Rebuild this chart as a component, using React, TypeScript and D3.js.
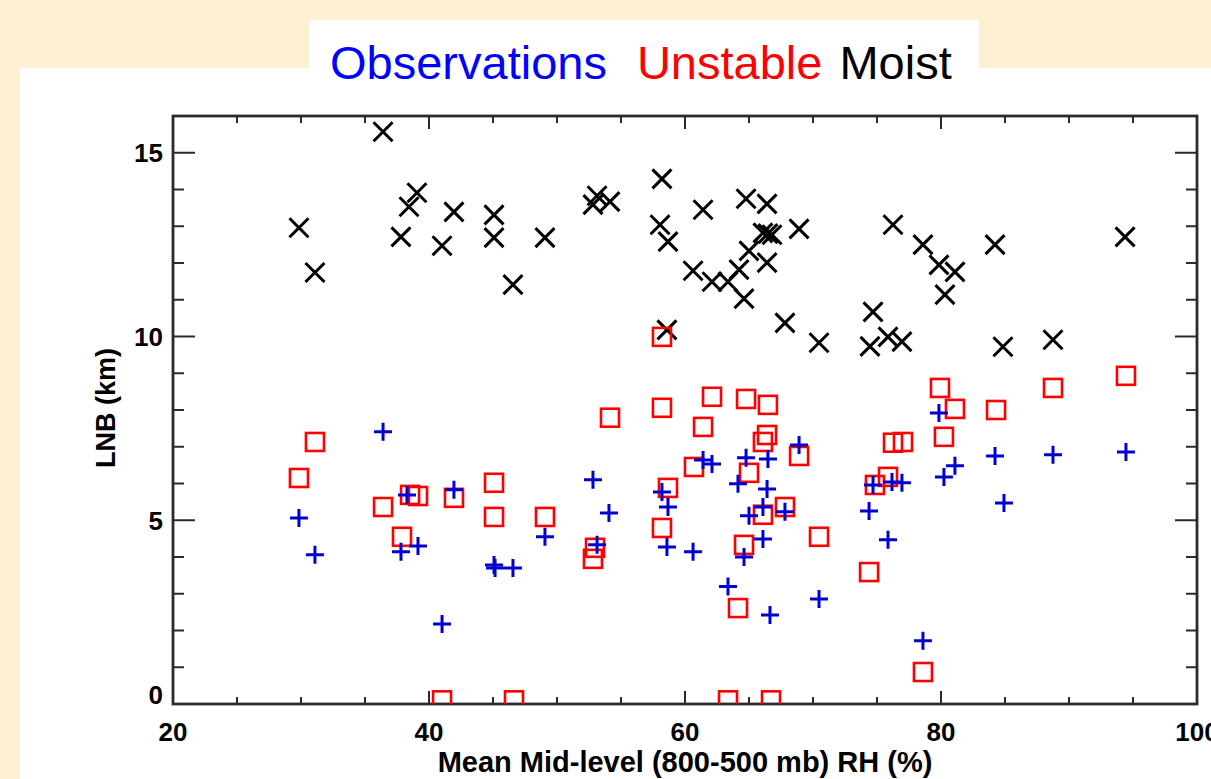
import React from 'react';
import * as d3 from 'd3';

const width = 1211;
const height = 779;
const plot = { left: 173, right: 1197, top: 116, bottom: 704 };

// [RH %, LNB km]
const moistPoints: [number, number][] = [
  [29.84, 12.96], [31.09, 11.74], [36.41, 15.57], [37.81, 12.71], [38.44, 13.53],
  [39.06, 13.91], [41.02, 12.47], [41.95, 13.39], [45.08, 13.31], [45.08, 12.69],
  [46.56, 11.41], [49.06, 12.69], [52.81, 13.59], [53.13, 13.83], [54.14, 13.67],
  [58.2, 14.29], [58.05, 13.04], [58.67, 12.58], [58.59, 10.18], [60.63, 11.79],
  [61.41, 13.45], [62.11, 11.49], [63.36, 11.49], [64.22, 11.82], [64.61, 11.03],
  [64.77, 13.75], [65.0, 12.33], [66.41, 13.61], [66.09, 12.82], [66.48, 12.8],
  [66.8, 12.77], [66.41, 12.01], [67.81, 10.37], [68.91, 12.93], [70.47, 9.83],
  [74.45, 9.73], [74.69, 10.67], [76.25, 13.04], [75.86, 9.99], [76.95, 9.86],
  [78.59, 12.5], [79.84, 11.95], [80.31, 11.14], [81.09, 11.76], [84.22, 12.5],
  [84.84, 9.72], [88.75, 9.91], [94.38, 12.71],
];

const unstablePoints: [number, number][] = [
  [29.84, 6.15], [31.09, 7.13], [36.41, 5.36], [37.89, 4.55], [38.52, 5.69],
  [39.14, 5.66], [41.02, 0.1], [41.95, 5.61], [45.08, 6.02], [45.08, 5.09],
  [46.64, 0.1], [49.06, 5.09], [52.81, 3.95], [52.97, 4.25], [54.14, 7.79],
  [58.2, 9.99], [58.2, 8.06], [58.2, 4.79], [58.67, 5.88], [60.7, 6.45],
  [61.41, 7.54], [62.11, 8.36], [63.36, 0.1], [64.14, 2.61], [64.61, 4.33],
  [64.77, 8.3], [65.0, 6.29], [66.09, 7.13], [66.09, 5.15], [66.41, 7.32],
  [66.48, 8.14], [66.72, 0.1], [67.81, 5.36], [68.91, 6.75], [70.47, 4.55],
  [74.38, 3.59], [74.84, 5.96], [75.86, 6.18], [76.25, 7.11], [77.03, 7.13],
  [78.59, 0.87], [79.92, 8.6], [80.23, 7.27], [81.09, 8.03], [84.3, 8.0],
  [88.75, 8.6], [94.45, 8.93],
];

const obsPoints: [number, number][] = [
  [29.84, 5.06], [31.09, 4.06], [36.41, 7.41], [37.81, 4.14], [38.28, 5.69],
  [39.14, 4.3], [41.02, 2.18], [41.95, 5.83], [45.08, 3.78], [45.16, 3.7],
  [46.56, 3.7], [49.06, 4.55], [52.81, 6.1], [53.13, 4.33], [54.06, 5.2],
  [58.2, 5.77], [58.67, 5.36], [58.59, 4.27], [60.63, 4.14], [61.41, 6.64],
  [62.11, 6.53], [63.36, 3.2], [64.14, 5.99], [64.61, 4.0], [64.77, 6.7],
  [65.0, 5.12], [66.09, 5.36], [66.09, 4.49], [66.41, 5.85], [66.48, 6.67],
  [66.64, 2.42], [67.81, 5.23], [68.91, 7.05], [70.47, 2.86], [74.38, 5.25],
  [74.69, 5.96], [75.86, 4.47], [76.17, 6.04], [76.95, 6.02], [78.59, 1.72],
  [79.84, 7.92], [80.23, 6.18], [81.09, 6.48], [84.22, 6.75], [84.92, 5.47],
  [88.75, 6.78], [94.45, 6.86],
];

const xTickLabels = [20, 40, 60, 80, 100];
const yTickLabels = [0, 5, 10, 15];
const xMinorTicks = d3.range(20, 101, 5);
const yMinorTicks = d3.range(0, 17, 1);

const titleParts = [
  { text: 'Observations', color: '#0000ff', dx: 0 },
  { text: 'Unstable', color: '#ff0000', dx: 30 },
  { text: 'Moist', color: '#000000', dx: 17 },
];

const x = d3.scaleLinear().domain([20, 100]).range([plot.left, plot.right]);
const y = d3.scaleLinear().domain([0, 16]).range([plot.bottom, plot.top]);

const axisColor = '#2b2b2b';
const boldFont = '"Liberation Sans", Arial, Helvetica, sans-serif';

export default function App() {
  const xMajorLen = 13, xMinorLen = 7, yMajorLen = 22, yMinorLen = 11;
  return (
    <svg width={width} height={height} style={{ position: 'absolute', left: 0, top: 0 }}
      fontFamily={boldFont}>
      <defs>
        <clipPath id="plot-clip">
          <rect x={plot.left} y={plot.top} width={plot.right - plot.left} height={plot.bottom - plot.top} />
        </clipPath>
      </defs>
      <rect width={width} height={height} fill="#fef1d3" />
      <rect x={20} y={68} width={width - 20} height={height - 68} fill="#fff" />
      <rect x={309} y={20} width={670} height={50} fill="#fff" />

      <text x={330} y={79} fontSize={47}>
        {titleParts.map((p, i) => (
          <tspan key={i} dx={p.dx} fill={p.color}>{p.text}</tspan>
        ))}
      </text>

      {/* ticks */}
      <g stroke={axisColor} strokeWidth={2}>
        {xMinorTicks.map(v => {
          const len = v % 20 === 0 ? xMajorLen : xMinorLen;
          return (
            <g key={'x' + v}>
              <line x1={x(v)} x2={x(v)} y1={plot.bottom} y2={plot.bottom - len} />
              <line x1={x(v)} x2={x(v)} y1={plot.top} y2={plot.top + len} />
            </g>
          );
        })}
        {yMinorTicks.map(v => {
          const len = v % 5 === 0 ? yMajorLen : yMinorLen;
          return (
            <g key={'y' + v}>
              <line x1={plot.left} x2={plot.left + len} y1={y(v)} y2={y(v)} />
              <line x1={plot.right} x2={plot.right - len} y1={y(v)} y2={y(v)} />
            </g>
          );
        })}
      </g>
      <rect x={plot.left} y={plot.top} width={plot.right - plot.left} height={plot.bottom - plot.top}
        fill="none" stroke={axisColor} strokeWidth={2.8} />

      {/* tick labels */}
      <g fontWeight="bold" fontSize={26} fill="#000">
        {xTickLabels.map(v => (
          <text key={v} x={x(v)} y={741} textAnchor="middle">{v}</text>
        ))}
        {yTickLabels.map(v => (
          <text key={v} x={163} y={Math.min(y(v), plot.bottom - 9)} dy="0.36em" textAnchor="end">{v}</text>
        ))}
      </g>

      <text x={(plot.left + plot.right) / 2} y={772} textAnchor="middle" fontWeight="bold" fontSize={29}>
        Mean Mid-level (800-500 mb) RH (%)
      </text>
      <text transform={`translate(115,408) rotate(-90)`} textAnchor="middle" fontWeight="bold" fontSize={27}>
        LNB (km)
      </text>

      <g clipPath="url(#plot-clip)">
        <g stroke="#000" strokeWidth={3} fill="none">
          {moistPoints.map(([a, b], i) => {
            const cx = x(a), cy = y(b), r = 9.5;
            return <path key={i} d={`M${cx - r},${cy - r}L${cx + r},${cy + r}M${cx - r},${cy + r}L${cx + r},${cy - r}`} />;
          })}
        </g>
        <g stroke="#ff0000" strokeWidth={2.6} fill="none">
          {unstablePoints.map(([a, b], i) => (
            <rect key={i} x={x(a) - 9} y={y(b) - 9} width={18} height={18} />
          ))}
        </g>
        <g stroke="#0000d0" strokeWidth={3} fill="none">
          {obsPoints.map(([a, b], i) => {
            const cx = x(a), cy = y(b), r = 9;
            return <path key={i} d={`M${cx - r},${cy}H${cx + r}M${cx},${cy - r}V${cy + r}`} />;
          })}
        </g>
      </g>
    </svg>
  );
}
